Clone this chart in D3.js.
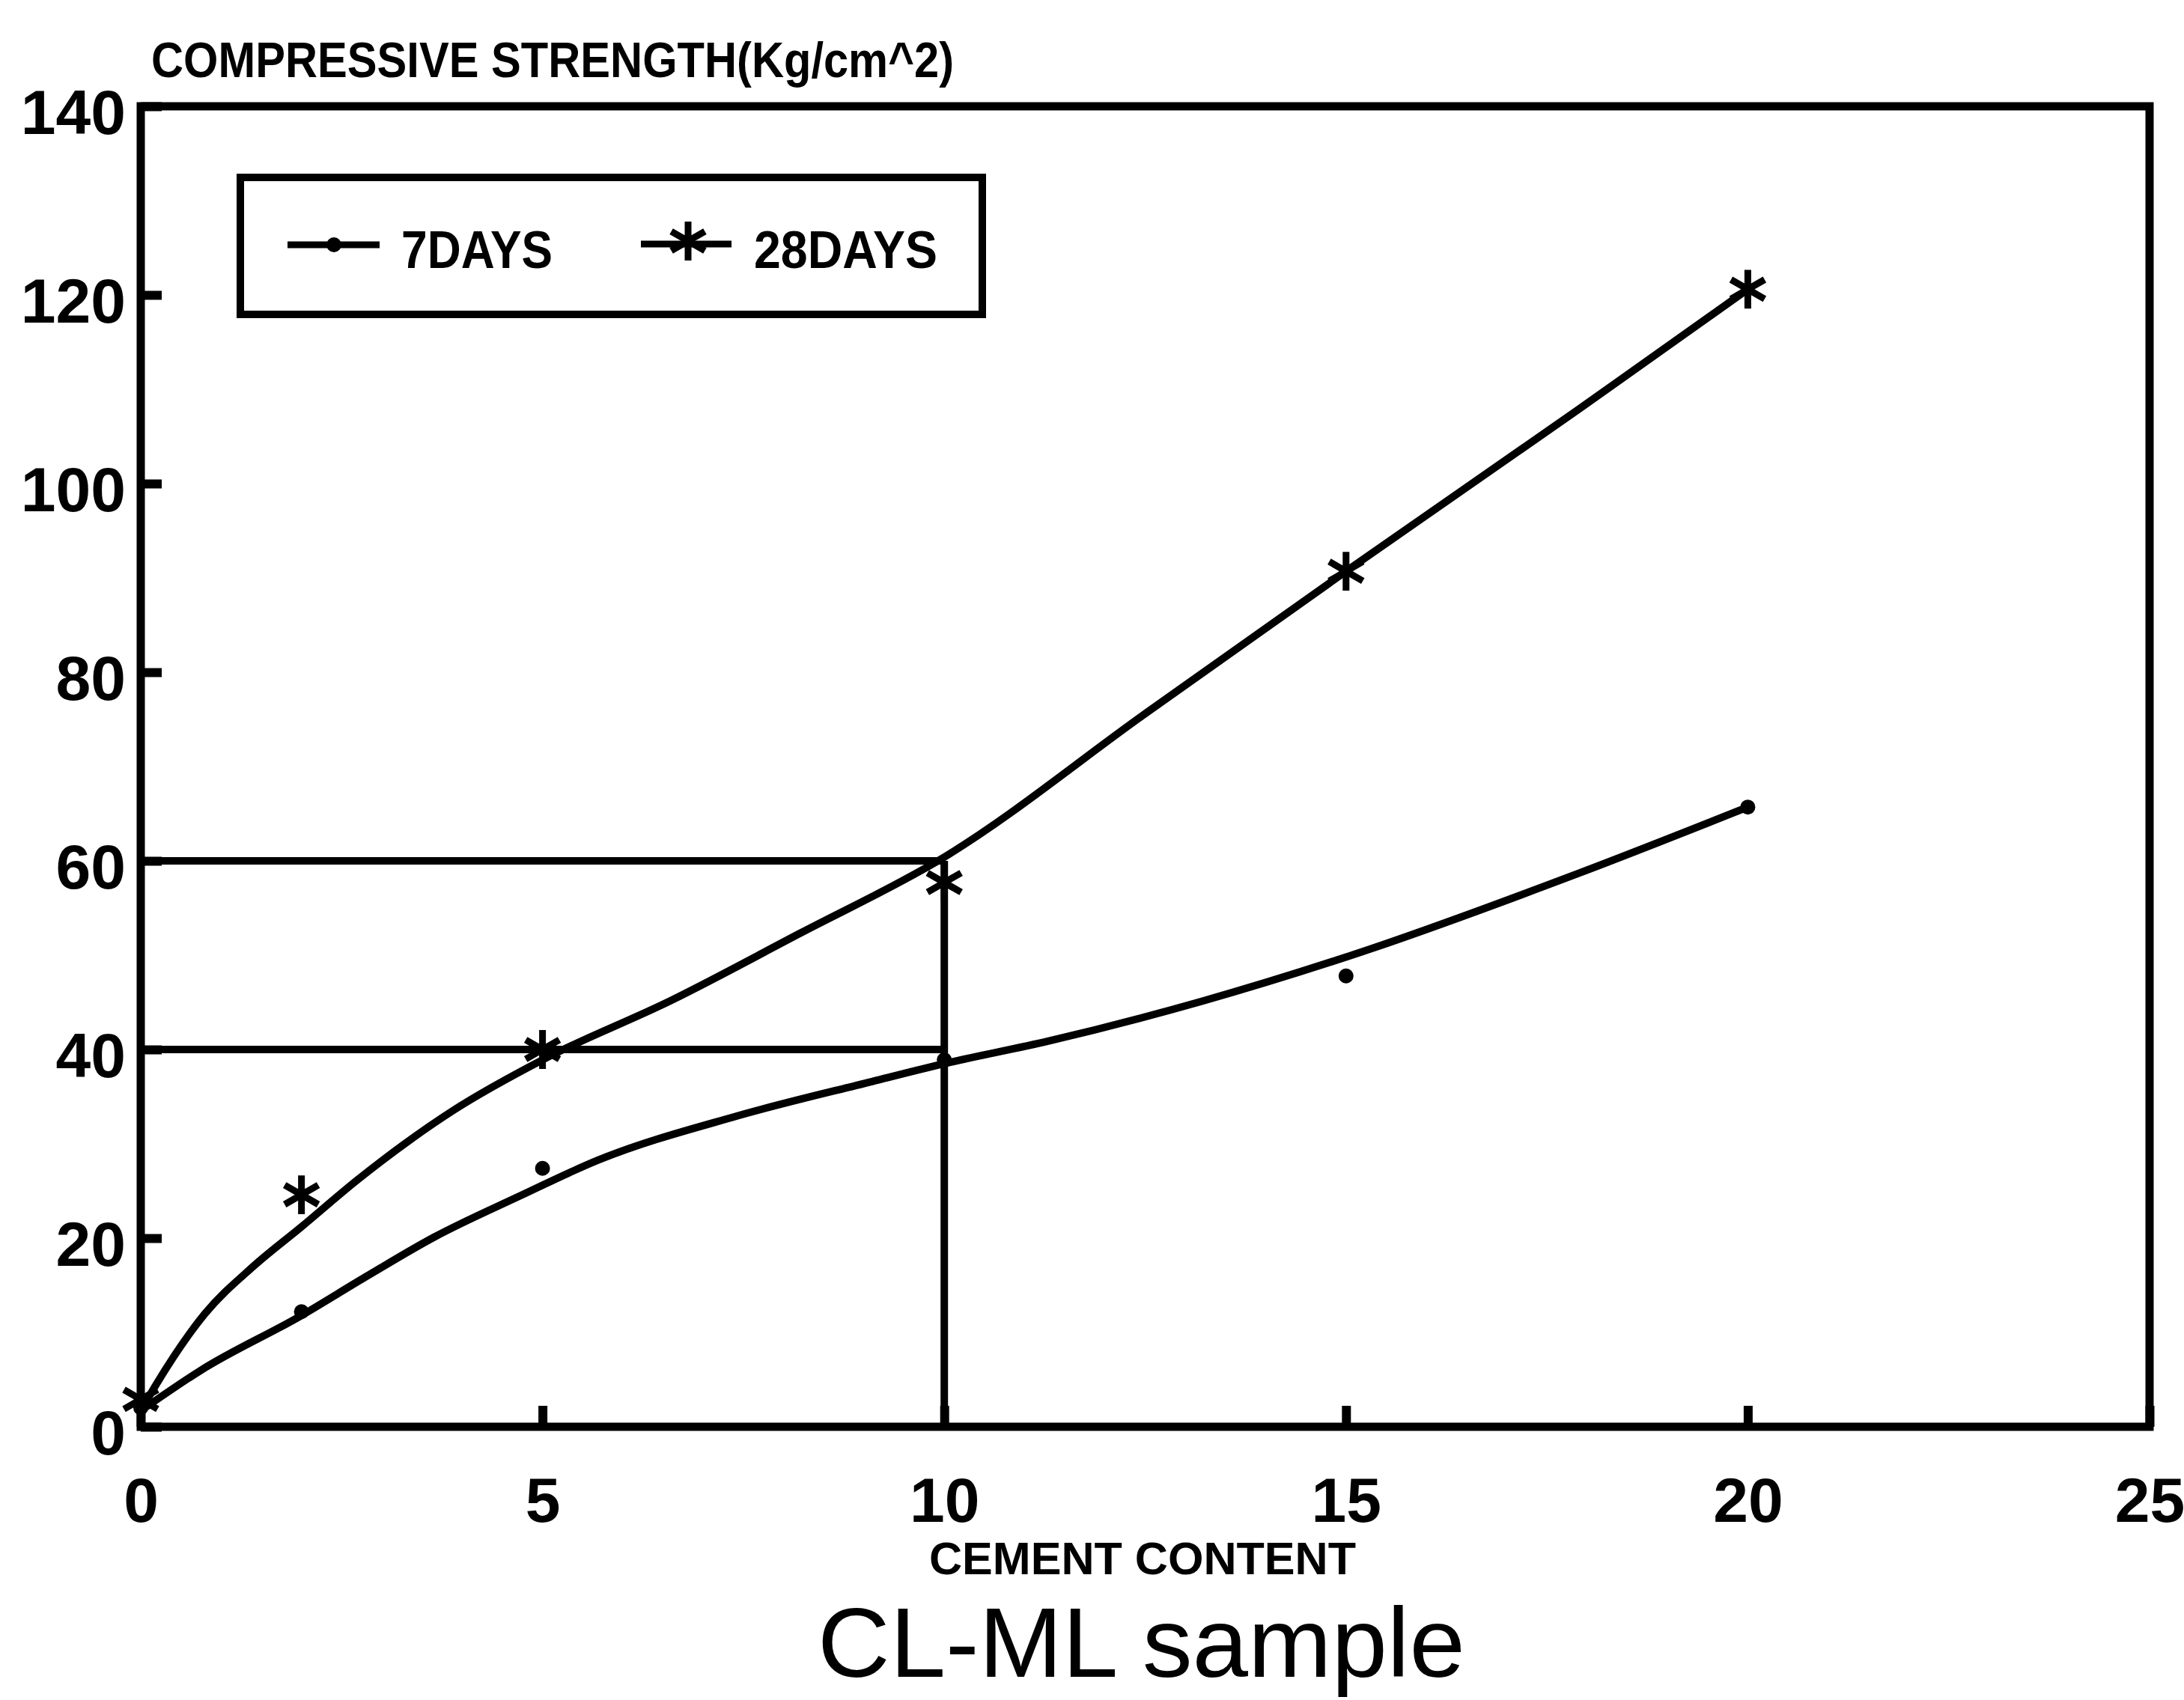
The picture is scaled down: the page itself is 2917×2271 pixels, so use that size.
<!DOCTYPE html>
<html>
<head>
<meta charset="utf-8">
<script src="https://cdn.jsdelivr.net/npm/d3@7"></script>
<style>
  body { margin: 0; background: #fff; }
  text { font-family: "Liberation Sans", Arial, Helvetica, sans-serif; fill: #000; }
</style>
</head>
<body>
<svg id="chart" width="2917" height="2271"></svg>
<script>
// measured points (cement content vs strength)
const cementContent = [0, 2, 5, 10, 15, 20];
const strength7Days = [2, 12.2, 27.4, 38.9, 47.8, 65.7];
const strength28Days = [2.9, 24.6, 40, 57.7, 90.7, 120.6];

// fitted curves as drawn in the figure
const fit7X = [0, 0.75, 2, 2.8, 3.65, 4.7, 5.7, 7.4, 9.1, 10, 11.3, 13.2, 15, 17.9, 20];
const fit7Y = [1.7, 6.0, 11.8, 15.9, 20.1, 24.4, 28.3, 32.9, 36.6, 38.5, 40.9, 45.1, 49.8, 58.7, 65.7];
const fit28X = [0, 0.2, 0.8, 1.4, 2, 2.7, 3.9, 5, 6.6, 8.2, 10, 12.5, 15, 17.9, 20];
const fit28Y = [1.7, 4.6, 12.0, 17.0, 21.2, 26.2, 33.6, 38.9, 45.2, 52.3, 60.4, 75.6, 90.7, 107.9, 120.6];

// reference lines
const guideLevels = [40, 60];
const guideX = 10;

// ticks
const xTicks = [0, 5, 10, 15, 20, 25];
const yTicks = [0, 20, 40, 60, 80, 100, 120, 140];

const seriesNames = ["7DAYS", "28DAYS"];

const svg = d3.select("#chart");

const x = d3.scaleLinear().domain([0, 25]).range([188, 2871]);
const y = d3.scaleLinear().domain([0, 140]).range([1906, 142]);

// X axis (ticks pointing inward)
const xAxis = svg.append("g")
    .attr("transform", `translate(0, ${y(0)})`)
    .call(d3.axisBottom(x).tickValues(xTicks).tickSize(-28).tickPadding(67));
xAxis.select(".domain").remove();
xAxis.selectAll("line").attr("stroke", "#000").attr("stroke-width", 12);
xAxis.selectAll("text")
    .attr("font-size", 84).attr("font-weight", "bold")
    .attr("font-family", "Liberation Sans, Arial, sans-serif");

// Y axis
const yAxis = svg.append("g")
    .attr("transform", `translate(${x(0)}, 0)`)
    .call(d3.axisLeft(y).tickValues(yTicks).tickSize(-28).tickPadding(20));
yAxis.select(".domain").remove();
yAxis.selectAll("line").attr("stroke", "#000").attr("stroke-width", 12);
yAxis.selectAll("text")
    .attr("dy", "0.43em")
    .attr("font-size", 84).attr("font-weight", "bold")
    .attr("font-family", "Liberation Sans, Arial, sans-serif");

// plot frame
svg.append("rect")
    .attr("x", x(0)).attr("y", y(140))
    .attr("width", x(25) - x(0)).attr("height", y(0) - y(140))
    .attr("fill", "none").attr("stroke", "#000").attr("stroke-width", 11);

// reference lines at 40 / 60 and x = 10
guideLevels.forEach(level => {
    svg.append("line")
        .attr("x1", x(0)).attr("x2", x(guideX))
        .attr("y1", y(level)).attr("y2", y(level))
        .attr("stroke", "#000").attr("stroke-width", 10);
});
svg.append("line")
    .attr("x1", x(guideX)).attr("x2", x(guideX))
    .attr("y1", y(0)).attr("y2", y(d3.max(guideLevels)))
    .attr("stroke", "#000").attr("stroke-width", 10);

// fitted curves
const line = d3.line()
    .x(d => x(d[0]))
    .y(d => y(d[1]))
    .curve(d3.curveMonotoneX);

svg.append("path")
    .datum(d3.zip(fit7X, fit7Y))
    .attr("fill", "none").attr("stroke", "#000").attr("stroke-width", 10)
    .attr("stroke-linejoin", "round").attr("stroke-linecap", "round")
    .attr("d", line);

svg.append("path")
    .datum(d3.zip(fit28X, fit28Y))
    .attr("fill", "none").attr("stroke", "#000").attr("stroke-width", 10)
    .attr("stroke-linejoin", "round").attr("stroke-linecap", "round")
    .attr("d", line);

// markers
const star = d3.symbol().type(d3.symbolAsterisk).size(1900);

svg.selectAll(".dot7")
    .data(d3.zip(cementContent, strength7Days))
    .enter()
    .append("circle")
    .attr("class", "dot7")
    .attr("cx", d => x(d[0]))
    .attr("cy", d => y(d[1]))
    .attr("r", 10)
    .attr("fill", "#000");

svg.selectAll(".star28")
    .data(d3.zip(cementContent, strength28Days))
    .enter()
    .append("path")
    .attr("class", "star28")
    .attr("transform", d => `translate(${x(d[0])}, ${y(d[1])})`)
    .attr("d", star)
    .attr("fill", "none").attr("stroke", "#000").attr("stroke-width", 9);

// legend
const legend = svg.append("g");
legend.append("rect")
    .attr("x", 321).attr("y", 237).attr("width", 991).attr("height", 183)
    .attr("fill", "#fff").attr("stroke", "#000").attr("stroke-width", 10);

legend.append("line")
    .attr("x1", 384).attr("x2", 507).attr("y1", 327).attr("y2", 327)
    .attr("stroke", "#000").attr("stroke-width", 9);
legend.append("circle")
    .attr("cx", 446).attr("cy", 327).attr("r", 10).attr("fill", "#000");
legend.append("text")
    .attr("x", 536).attr("y", 358)
    .attr("font-size", 70).attr("font-weight", "bold")
    .attr("textLength", 202).attr("lengthAdjust", "spacingAndGlyphs")
    .text(seriesNames[0]);

legend.append("line")
    .attr("x1", 856).attr("x2", 977).attr("y1", 326).attr("y2", 326)
    .attr("stroke", "#000").attr("stroke-width", 9);
legend.append("path")
    .attr("transform", "translate(919, 322)")
    .attr("d", star)
    .attr("fill", "none").attr("stroke", "#000").attr("stroke-width", 9);
legend.append("text")
    .attr("x", 1007).attr("y", 358)
    .attr("font-size", 70).attr("font-weight", "bold")
    .attr("textLength", 245).attr("lengthAdjust", "spacingAndGlyphs")
    .text(seriesNames[1]);

// axis titles
svg.append("text")
    .attr("x", 202).attr("y", 103)
    .attr("font-size", 66).attr("font-weight", "bold")
    .attr("textLength", 1072).attr("lengthAdjust", "spacingAndGlyphs")
    .text("COMPRESSIVE STRENGTH(Kg/cm^2)");

svg.append("text")
    .attr("x", 1241).attr("y", 2103)
    .attr("font-size", 62).attr("font-weight", "bold")
    .attr("textLength", 570).attr("lengthAdjust", "spacingAndGlyphs")
    .text("CEMENT CONTENT");

svg.append("text")
    .attr("x", 1092).attr("y", 2240)
    .attr("font-size", 132)
    .attr("textLength", 865).attr("lengthAdjust", "spacingAndGlyphs")
    .text("CL-ML sample");
</script>
</body>
</html>
